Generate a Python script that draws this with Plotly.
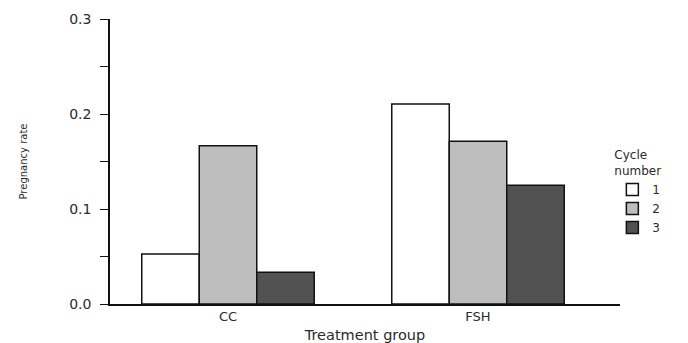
import plotly.graph_objects as go

groups = ["CC", "FSH"]
cycles = ["1", "2", "3"]
rate_cycle1 = [0.0526, 0.2105]
rate_cycle2 = [0.1667, 0.1714]
rate_cycle3 = [0.0333, 0.125]
bar_colors = ["#ffffff", "#bdbdbd", "#525252"]

series = [rate_cycle1, rate_cycle2, rate_cycle3]

FONT = "DejaVu Sans"
TXT = "#2a2a2a"

fig = go.Figure()
for name, vals, col in zip(cycles, series, bar_colors):
    fig.add_trace(go.Bar(
        x=groups, y=vals, name=name,
        marker=dict(color=col, line=dict(color="#111111", width=1.5)),
    ))

# page body adds an 8px margin, so the figure is 8px smaller on each axis
fig.update_layout(
    width=680, height=335,
    margin=dict(l=102, r=68, t=11, b=39, autoexpand=False),
    paper_bgcolor="white", plot_bgcolor="white",
    barmode="group", bargap=0.31, bargroupgap=0,
    font=dict(family=FONT, color=TXT, size=12),
    showlegend=True,
    legend=dict(
        title=dict(text="Cycle<br>number", font=dict(size=12, family=FONT, color=TXT)),
        x=0.985, xanchor="left", y=0.562, yanchor="top",
        bgcolor="rgba(0,0,0,0)", borderwidth=0,
        font=dict(size=12, family=FONT, color=TXT),
        tracegroupgap=0,
    ),
)

fig.update_xaxes(
    range=[-0.472, 1.568],
    showline=True, linecolor="#111111", linewidth=1.5,
    ticks="", showgrid=False, zeroline=False,
    tickfont=dict(size=13, family=FONT, color=TXT),
    title=dict(text="Treatment group", font=dict(size=14.5, family=FONT, color=TXT), standoff=7),
    automargin=False,
)
fig.update_yaxes(
    range=[0, 0.3],
    showline=True, linecolor="#111111", linewidth=1.5,
    ticks="outside", ticklen=8, tickwidth=1, tickcolor="#111111",
    dtick=0.1, tickformat=".1f", ticklabelstandoff=6,
    minor=dict(dtick=0.05, ticks="outside", ticklen=8, tickwidth=1, tickcolor="#111111", showgrid=False),
    showgrid=False, zeroline=False,
    tickfont=dict(size=14, family=FONT, color=TXT),
    title=dict(text="Pregnancy rate", font=dict(size=10, family=FONT, color=TXT), standoff=40),
    automargin=False,
)

fig.write_html("out.html")
